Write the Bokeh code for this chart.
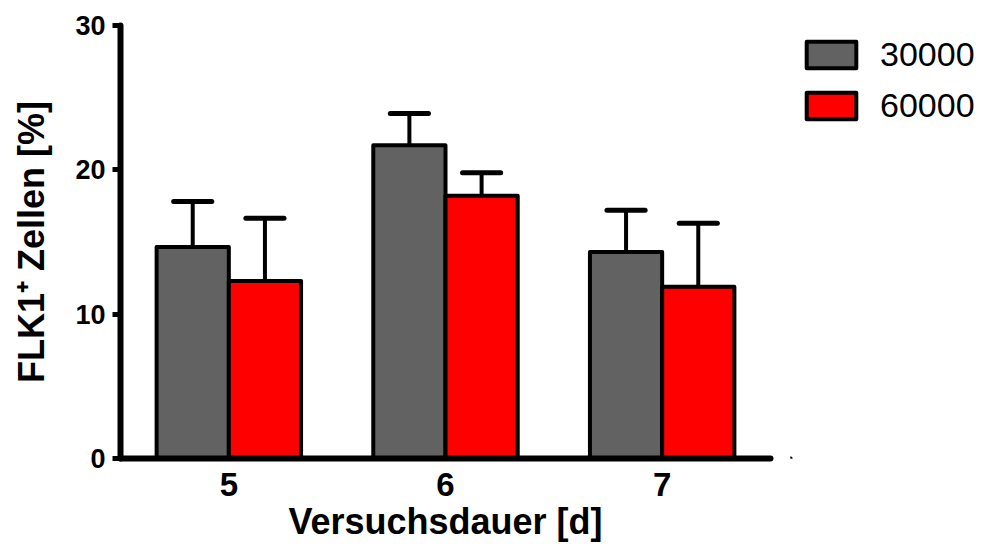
from bokeh.plotting import figure
from bokeh.layouts import row
from bokeh.models import (ColumnDataSource, FactorRange, Range1d, FixedTicker,
                          Legend, LegendItem)
from bokeh.transform import dodge
from bokeh.embed import file_html
from bokeh.resources import INLINE

# ---- data ----
days = ["5", "6", "7"]
mean_30000 = [14.65, 21.7, 14.3]
sd_30000 = [3.15, 2.2, 2.9]
mean_60000 = [12.3, 18.2, 11.9]
sd_60000 = [4.35, 1.6, 4.4]
series_labels = ["30000", "60000"]
y_ticks = [0, 10, 20, 30]

src = ColumnDataSource(dict(
    day=days,
    m1=mean_30000,
    t1=[m + s for m, s in zip(mean_30000, sd_30000)],
    m2=mean_60000,
    t2=[m + s for m, s in zip(mean_60000, sd_60000)],
))

FONT = "Liberation Sans"
GRAY = "#626262"
RED = "#ff0000"
BW = 1 / 3
CAP = 0.088

p = figure(frame_width=650, height=547, x_range=FactorRange(factors=days),
           y_range=Range1d(0, 30), output_backend="svg", toolbar_location=None,
           min_border_left=120, min_border_top=25, min_border_bottom=89,
           min_border_right=20)
p.x_range.range_padding = 0
p.outline_line_color = None
p.grid.visible = False
p.background_fill_color = "white"
p.border_fill_color = "white"

# error bars (upper only)
for off, m, t in [(-1 / 6, "m1", "t1"), (1 / 6, "m2", "t2")]:
    p.segment(x0=dodge("day", off, range=p.x_range), y0=m,
              x1=dodge("day", off, range=p.x_range), y1=t,
              source=src, line_color="black", line_width=4)
    p.segment(x0=dodge("day", off - CAP, range=p.x_range), y0=t,
              x1=dodge("day", off + CAP, range=p.x_range), y1=t,
              source=src, line_color="black", line_width=5, line_cap="round")

p.vbar(x=dodge("day", -1 / 6, range=p.x_range), top="m1", width=BW,
       source=src, fill_color=GRAY, line_color="black", line_width=4,
       line_join="round")
p.vbar(x=dodge("day", 1 / 6, range=p.x_range), top="m2", width=BW,
       source=src, fill_color=RED, line_color="black", line_width=4,
       line_join="round")

# axes
ya = p.yaxis[0]
ya.ticker = FixedTicker(ticks=y_ticks)
ya.minor_tick_line_color = None
ya.major_tick_in = 0
ya.major_tick_out = 8
ya.major_tick_line_width = 5
ya.axis_line_width = 6
ya.axis_line_cap = "round"
ya.major_label_text_font = FONT
ya.major_label_text_font_style = "bold"
ya.major_label_text_font_size = "27px"
ya.major_label_text_color = "black"
ya.major_label_standoff = 7
ya.axis_label = "FLK1\u207a Zellen [%]"
ya.axis_label_text_font = FONT
ya.axis_label_text_font_style = "bold"
ya.axis_label_text_font_size = "36px"
ya.axis_label_text_color = "black"
ya.axis_label_standoff = 20

xa = p.xaxis[0]
xa.major_tick_line_color = None
xa.minor_tick_line_color = None
xa.major_tick_in = 0
xa.major_tick_out = 0
xa.axis_line_width = 6
xa.axis_line_cap = "round"
xa.major_label_text_font = FONT
xa.major_label_text_font_style = "bold"
xa.major_label_text_font_size = "33px"
xa.major_label_text_color = "black"
xa.major_label_standoff = 14
xa.axis_label = "Versuchsdauer [d]"
xa.axis_label_text_font = FONT
xa.axis_label_text_font_style = "bold"
xa.axis_label_text_font_size = "36px"
xa.axis_label_text_color = "black"
xa.axis_label_standoff = 2

# legend panel (separate, axis-less figure to the right)
q = figure(width=199, height=547, x_range=Range1d(0, 1), y_range=Range1d(0, 1),
           output_backend="svg", toolbar_location=None,
           x_axis_location=None, y_axis_location=None, min_border=0)
q.outline_line_color = None
q.grid.visible = False
# off-screen proxy bars that only provide the legend swatches
proxy = ColumnDataSource(dict(x=[-5], top=[-5], bottom=[-6]))
l1 = q.vbar(x="x", top="top", bottom="bottom", width=0.1, source=proxy,
            fill_color=GRAY, line_color="black", line_width=4, line_join="round")
l2 = q.vbar(x="x", top="top", bottom="bottom", width=0.1, source=proxy,
            fill_color=RED, line_color="black", line_width=4, line_join="round")

legend = Legend(items=[LegendItem(label=series_labels[0], renderers=[l1]),
                       LegendItem(label=series_labels[1], renderers=[l2])],
                location="top_left", margin=10, padding=6,
                glyph_width=62, glyph_height=33, label_height=33,
                label_standoff=18, spacing=12,
                label_text_font=FONT, label_text_font_size="34px",
                label_text_color="black",
                border_line_color=None, background_fill_alpha=0)
q.add_layout(legend)

open("out.html", "w").write(file_html(row(p, q), INLINE))
